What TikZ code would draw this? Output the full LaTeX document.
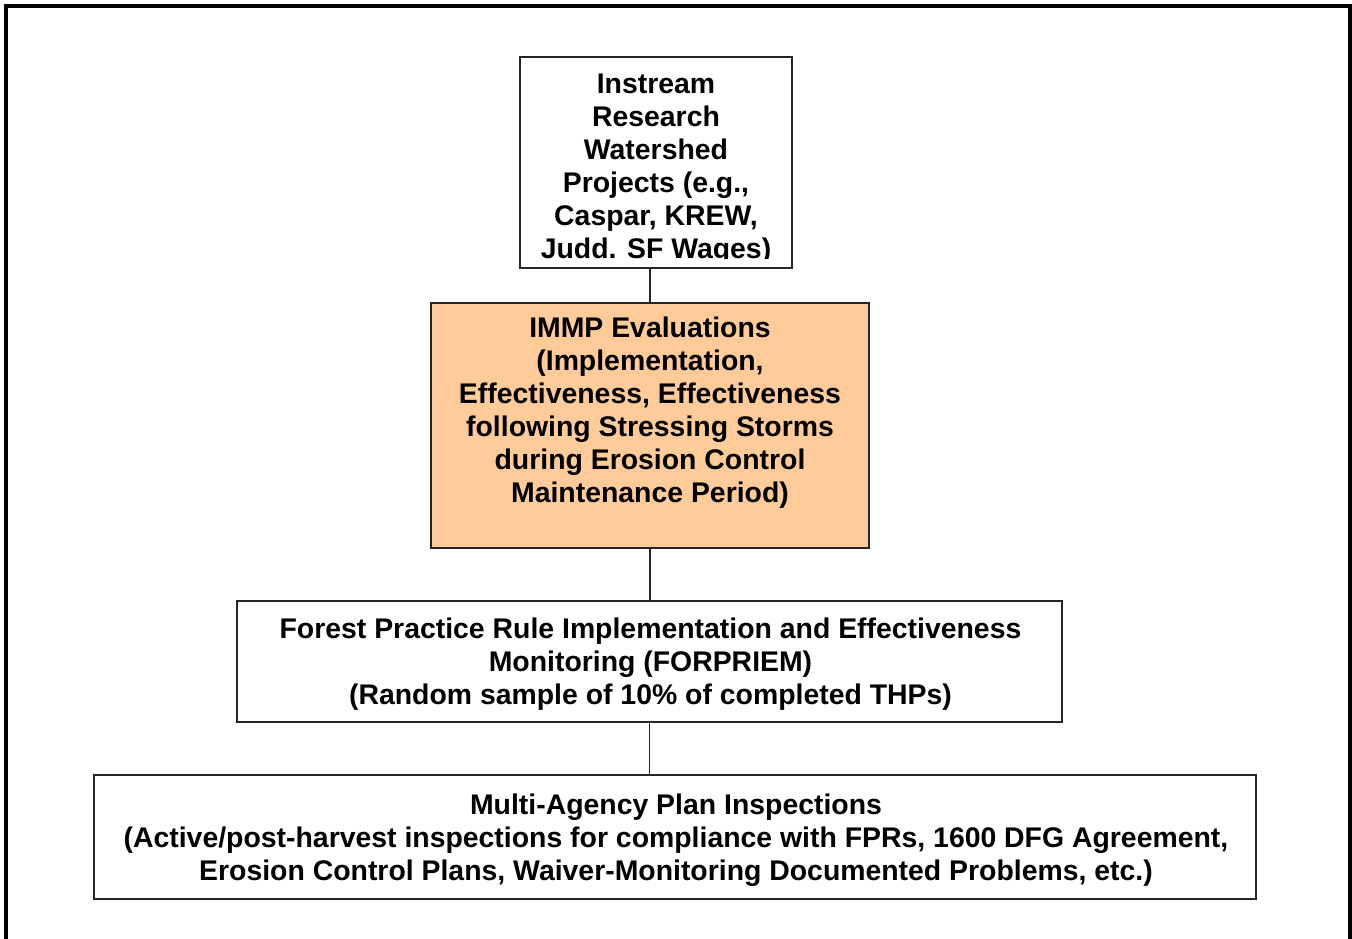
\documentclass[tikz,border=0pt]{standalone}
\usepackage{fontspec}
\setmainfont{Liberation Sans}
\begin{document}
\begin{tikzpicture}[x=1pt,y=-1pt,
  box/.style={draw=black!85, line width=2pt, rectangle, inner sep=0pt},
  txt/.style={align=center, inner sep=0pt, anchor=base, font=\fontsize{28.4}{33}\selectfont\bfseries},
  conn/.style={draw=black!85, line width=1.8pt}]
\path[use as bounding box] (0,0) rectangle (1352,938);
% outer frame
\draw[line width=3.8pt, line cap=rect] (6,938) -- (6,5.8) -- (1350,5.8) -- (1350,938);
% boxes
\node[box, minimum width=272pt, minimum height=211pt] (top) at (655.5,162.5) {};
\node[box, fill={rgb,255:red,255;green,204;blue,153}, minimum width=438pt, minimum height=245pt] (immp) at (650,425.5) {};
\node[box, minimum width=825pt, minimum height=121pt] (forp) at (649.5,661.5) {};
\node[box, minimum width=1162pt, minimum height=124pt] (mapi) at (675,837) {};
% connectors
\draw[conn] (immp.north) -- (immp.north |- top.south);
\draw[conn] (immp.south) -- (immp.south |- forp.north);
\draw[conn] (forp.south) -- (forp.south |- mapi.north);
% texts (base anchor = baseline of the last line)
\begin{scope}
\clip (520,58) rectangle (791,258);
\node[txt] (ttop) at (656,258) {Instream\\Research\\Watershed\\Projects (e.g.,\\Caspar, KREW,\\Judd. SF Wages)};
\end{scope}
\node[txt] (timmp) at (650,502) {IMMP Evaluations\\(Implementation,\\Effectiveness, Effectiveness\\following Stressing Storms\\during Erosion Control\\Maintenance Period)};
\node[txt] (tforp) at (650.5,704) {Forest Practice Rule Implementation and Effectiveness\\Monitoring (FORPRIEM)\\(Random sample of 10\% of completed THPs)};
\node[txt] (tmapi) at (676,880) {Multi-Agency Plan Inspections\\(Active/post-harvest inspections for compliance with FPRs, 1600 DFG Agreement,\\Erosion Control Plans, Waiver-Monitoring Documented Problems, etc.)};
\end{tikzpicture}
\end{document}
